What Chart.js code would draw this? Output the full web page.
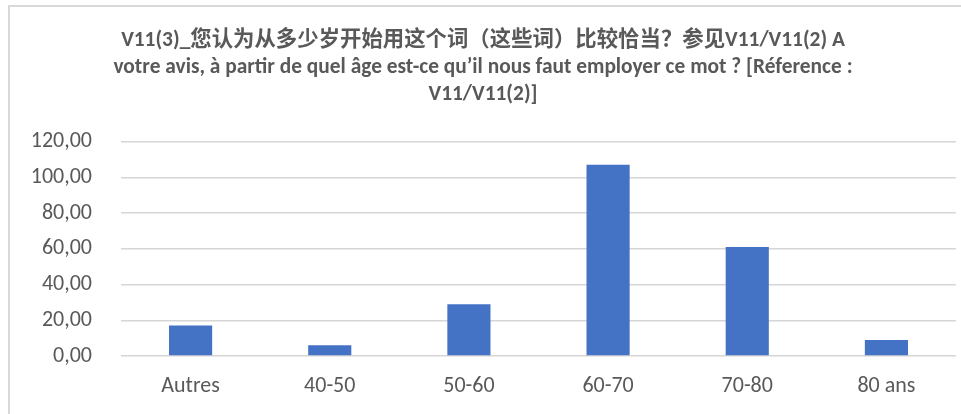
<!DOCTYPE html>
<html>
<head>
<meta charset="utf-8">
<script src="https://cdn.jsdelivr.net/npm/chart.js@4"></script>
<style>
  html, body { margin: 0; padding: 0; background: #fff; overflow: hidden; }
  #box {
    position: absolute; left: 8px; top: 5px; width: 953px; height: 409px;
    border-left: 2px solid #d9d9d9; border-top: 2px solid #d9d9d9;
  }
  canvas { display: block; }
</style>
</head>
<body>
<div id="box"><canvas id="c" width="951" height="407"></canvas></div>
<script>
// categories and counts
var categories = ['Autres', '40-50', '50-60', '60-70', '70-80', '80 ans'];
var values = [17, 6, 29, 107, 61, 9];
var titleLines = [
    'V11(3)_您认为从多少岁开始用这个词（这些词）比较恰当？参见V11/V11(2) A',
    'votre avis, à partir de quel âge est-ce qu’il nous faut employer ce mot ? [Réference :',
    'V11/V11(2)]'
];

var fontFamily = "Carlito, 'Liberation Sans', 'Noto Sans CJK SC', sans-serif";
Chart.defaults.font.family = fontFamily;
Chart.defaults.color = '#595959';

new Chart(document.getElementById('c').getContext('2d'), {
    type: 'bar',
    data: {
        labels: categories,
        datasets: [{
            data: values,
            backgroundColor: '#4472C4',
            barPercentage: 0.31,
            categoryPercentage: 1
        }]
    },
    options: {
        responsive: false,
        animation: false,
        layout: { padding: { left: 0, right: 5, top: 0, bottom: 0 } },
        plugins: {
            legend: { display: false },
            tooltip: { enabled: false },
            title: {
                display: true,
                text: titleLines,
                color: '#595959',
                font: { size: 21.4, weight: 'bold', family: fontFamily, lineHeight: 1.27 },
                padding: { top: 20, bottom: 33 }
            }
        },
        scales: {
            x: {
                grid: { display: false, drawTicks: false },
                border: { display: false },
                ticks: { padding: 17, font: { size: 22 }, color: '#595959' },
                afterFit: function (scale) { scale.height = 58; }
            },
            y: {
                min: 0,
                max: 120,
                grid: { color: '#d6d6d6', lineWidth: 1.5, drawTicks: false },
                border: { display: false },
                ticks: {
                    stepSize: 20,
                    padding: 29,
                    font: { size: 22 },
                    color: '#595959',
                    callback: function (v) { return v.toFixed(2).replace('.', ','); }
                },
                afterFit: function (scale) { scale.width = 111; }
            }
        }
    }
});
</script>
</body>
</html>
